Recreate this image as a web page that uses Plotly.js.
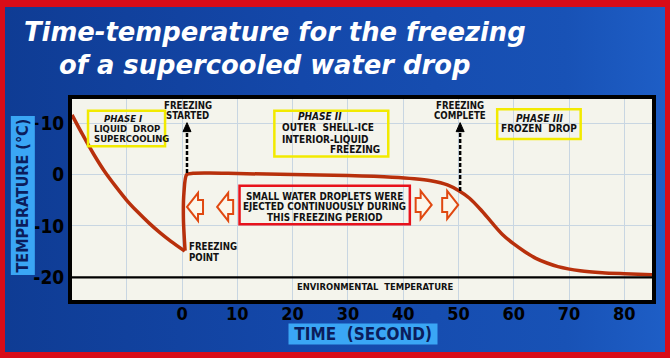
<!DOCTYPE html>
<html>
<head>
<meta charset="utf-8">
<script src="https://cdn.plot.ly/plotly-3.0.1.min.js"></script>
<style>
  html, body { margin: 0; padding: 0; width: 670px; height: 358px; overflow: hidden; background: #d80c18; }
  #chart { position: absolute; left: 5px; top: 7px; width: 660px; height: 345px;
    background: linear-gradient(90deg, #0f3c94 0%, #1448aa 45%, #1852b6 85%, #1e5ec6 100%); }
</style>
</head>
<body>
<div id="chart"></div>
<script>
// ---- data ----
// Phase I: liquid drop supercooling (time s, temperature °C)
const coolTime = [-19.9, -18, -16, -14, -12, -10, -8, -6, -4, -2, 0.5];
const coolTemp = [11.6, 7.8, 4.0, 0.6, -2.3, -5.0, -7.3, -9.4, -11.3, -13.0, -14.9];
// Phase II + III: freezing then frozen drop cooling
const freezeTime = [0.55, 0.25, 0.35, 0.85, 2, 5, 10, 20, 30, 38, 42, 45, 48, 50, 52, 54, 56, 58, 60, 62, 64, 66, 68, 72, 76, 80, 85];
const freezeTemp = [-14.8, -8.5, -3.5, 0.0, 0.25, 0.3, 0.2, 0.0, -0.2, -0.5, -0.8, -1.2, -2.0, -3.1, -4.6, -6.8, -9.3, -11.7, -13.5, -15.0, -16.3, -17.2, -17.9, -18.7, -19.1, -19.3, -19.5];
// Environmental temperature
const envTime = [-19.9, 85];
const envTemp = [-20, -20];
// Tick labels
const xTickVals = [-10, 0, 10, 20, 30, 40, 50, 60, 70, 80];
const xTickText = ['', '0', '10', '20', '30', '40', '50', '60', '70', '80'];
const yTickVals = [10, 0, -10, -20];
const yTickText = ['+10', '0', '-10', '-20'];

// ---- styling ----
const NARROW = '"Liberation Sans Narrow", "DejaVu Sans Condensed", "Arial Narrow", sans-serif';
const CURVE = '#b8300c';
const PLOTBG = '#f4f4ec';

const traces = [
  { x: coolTime, y: coolTemp, mode: 'lines', line: { color: CURVE, width: 3.5, shape: 'spline', smoothing: 0.8 }, hoverinfo: 'skip' },
  { x: freezeTime, y: freezeTemp, mode: 'lines', line: { color: CURVE, width: 3.5, shape: 'spline', smoothing: 0.8 }, hoverinfo: 'skip' },
  { x: envTime, y: envTemp, mode: 'lines', line: { color: '#000000', width: 2.2 }, hoverinfo: 'skip' }
];

function txt(text, x, y, opts) {
  opts = opts || {};
  return {
    text: text, x: x, y: y, xref: 'x', yref: 'y', showarrow: false,
    xanchor: opts.xanchor || 'center', yanchor: 'middle',
    font: { family: NARROW, size: opts.size || 10, color: '#111111', weight: 'bold', style: opts.italic ? 'italic' : 'normal' }
  };
}

const TITLEFONT = { family: '"DejaVu Sans", "Liberation Sans", sans-serif', size: 25.8, color: '#ffffff', weight: 'bold', style: 'italic' };

const annotations = [
  // title
  { text: 'Time-temperature for the freezing', xref: 'paper', yref: 'paper', x: -0.0862, y: 1.333, xanchor: 'left', yanchor: 'middle', showarrow: false, font: TITLEFONT },
  { text: 'of a supercooled water drop', xref: 'paper', yref: 'paper', x: -0.0259, y: 1.169, xanchor: 'left', yanchor: 'middle', showarrow: false, font: TITLEFONT },
  // axis titles
  { text: 'TEMPERATURE (°C)', xref: 'paper', yref: 'paper', x: -0.0855, y: 0.522, xanchor: 'center', yanchor: 'middle', textangle: -90, showarrow: false,
    bgcolor: '#3aa6f5', borderpad: 2, font: { family: NARROW, size: 16, color: '#0b1d5c', weight: 'bold' } },
  { text: '&nbsp;TIME&nbsp;&nbsp;(SECOND)&nbsp;', xref: 'paper', yref: 'paper', x: 0.502, y: -0.167, xanchor: 'center', yanchor: 'middle', showarrow: false,
    bgcolor: '#3aa6f5', borderpad: 0, font: { family: NARROW, size: 17, color: '#0b1d5c', weight: 'bold' } },
  // Phase I box
  txt('PHASE I', -10.7, 10.9, { italic: true, size: 9.5 }),
  txt('LIQUID&nbsp;&nbsp;DROP', -16.3, 9.0, { xanchor: 'left', size: 9.5 }),
  txt('SUPERCOOLING', -16.3, 7.0, { xanchor: 'left', size: 9.5 }),
  // Phase II box
  txt('PHASE II', 25.0, 11.2, { italic: true }),
  txt('OUTER&nbsp;&nbsp;SHELL-ICE', 17.7, 9.1, { xanchor: 'left' }),
  txt('INTERIOR-LIQUID', 17.7, 6.9, { xanchor: 'left' }),
  txt('FREEZING', 36.2, 4.9, { xanchor: 'right' }),
  // Phase III box
  txt('PHASE III', 64.7, 11.0, { italic: true }),
  txt('FROZEN&nbsp;&nbsp;DROP', 64.6, 9.0),
  // red box
  txt('SMALL WATER DROPLETS WERE', 25.8, -4.17, { size: 9.8 }),
  txt('EJECTED CONTINUOUSLY DURING', 25.8, -6.3, { size: 9.8 }),
  txt('THIS FREEZING PERIOD', 25.8, -8.35, { size: 9.8 }),
  // markers text
  txt('FREEZING', 1.0, 13.5, { size: 9.6 }),
  txt('STARTED', 1.0, 11.4, { size: 9.6 }),
  txt('FREEZING', 50.3, 13.5, { size: 9.6 }),
  txt('COMPLETE', 50.3, 11.4, { size: 9.6 }),
  txt('FREEZING', 0.95, -14.0, { xanchor: 'left', size: 9.6 }),
  txt('POINT', 0.95, -16.2, { xanchor: 'left', size: 9.6 }),
  txt('ENVIRONMENTAL&nbsp;&nbsp;TEMPERATURE', 34.9, -21.8, { size: 9.4 })
];

function box(x0, x1, y0, y1, color) {
  return { type: 'rect', xref: 'x', yref: 'y', x0: x0, x1: x1, y0: y0, y1: y1,
    line: { color: color, width: 2.5 }, fillcolor: 'rgba(0,0,0,0)', layer: 'above' };
}
function dashed(x, y0, y1) {
  return { type: 'line', xref: 'x', yref: 'y', x0: x, x1: x, y0: y0, y1: y1,
    line: { color: '#000000', width: 2.5, dash: '4px,2px' }, layer: 'above' };
}
function head(x, y) {
  return { type: 'path', xref: 'x', yref: 'y', xsizemode: 'pixel', ysizemode: 'pixel', xanchor: x, yanchor: y,
    path: 'M 0,0 L -4,-9 L 4,-9 Z', fillcolor: '#000000', line: { color: '#000000', width: 1 }, layer: 'above' };
}
function hollowArrow(x, y, dir) {
  const s = dir;
  const p = `M ${-8*s},0 L ${3*s},14 L ${3*s},7 L ${8*s},7 L ${8*s},-7 L ${3*s},-7 L ${3*s},-14 Z`;
  return { type: 'path', xref: 'x', yref: 'y', xsizemode: 'pixel', ysizemode: 'pixel', xanchor: x, yanchor: y,
    path: p, fillcolor: '#fbf6ea', line: { color: '#e04810', width: 2 }, layer: 'above' };
}

const shapes = [
  box(-17.0, -3.07, 12.4, 5.5, '#f2ea00'),
  box(16.7, 37.3, 12.4, 3.5, '#f2ea00'),
  box(57.0, 72.1, 12.7, 6.9, '#f2ea00'),
  box(10.4, 41.2, -2.17, -9.67, '#e8121c'),
  dashed(0.9, 0.3, 8.5), head(0.9, 10.1),
  dashed(50.3, -3.2, 8.5), head(50.3, 10.1),
  hollowArrow(2.35, -6.3, 1), hollowArrow(7.8, -6.3, 1),
  hollowArrow(43.7, -5.9, -1), hollowArrow(48.5, -5.9, -1)
];

const layout = {
  width: 660, height: 345, autosize: false,
  margin: { l: 67, r: 13, t: 92, b: 52 },
  paper_bgcolor: 'rgba(0,0,0,0)', plot_bgcolor: PLOTBG,
  showlegend: false,
  xaxis: { range: [-19.9, 85], tickvals: xTickVals, ticktext: xTickText, showgrid: true, gridcolor: '#c8d6e2', gridwidth: 1,
    zeroline: false, showline: true, mirror: true, linecolor: '#000000', linewidth: 4, ticks: '', ticklabelstandoff: -6,
    tickfont: { family: NARROW, size: 18, color: '#000000', weight: 'bold' }, fixedrange: true },
  yaxis: { range: [-24.4, 14.7], tickvals: yTickVals, ticktext: yTickText, showgrid: true, gridcolor: '#c8d6e2', gridwidth: 1,
    zeroline: false, showline: true, mirror: true, linecolor: '#000000', linewidth: 4, ticks: '',
    tickfont: { family: NARROW, size: 19, color: '#000000', weight: 'bold' }, fixedrange: true },
  annotations: annotations,
  shapes: shapes
};

Plotly.newPlot('chart', traces, layout, { displayModeBar: false, staticPlot: true });
</script>
</body>
</html>
